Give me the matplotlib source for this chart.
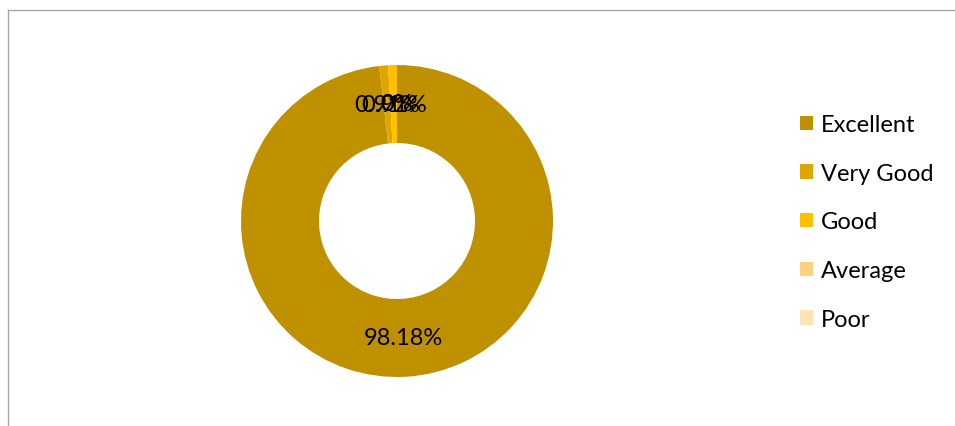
import matplotlib
matplotlib.use("Agg")
import matplotlib.pyplot as plt
from matplotlib.lines import Line2D
import numpy as np

categories = ["Excellent", "Very Good", "Good", "Average", "Poor"]
values = [98.18, 0.91, 0.91, 0.0, 0.0]
labels = ["98.18%", "0.91%", "0.91%", "0%", "0%"]
colors = ["#BF9000", "#DFA600", "#FFC000", "#FFD080", "#FFE2B6"]

plt.rcParams['font.family'] = ['Lato', 'DejaVu Sans']

W, H = 955, 427
fig = plt.figure(figsize=(W / 100, H / 100), dpi=100)

# frame (top and left edges visible)
fx, fy = 7.5 / W, (H - 10.5) / H
fig.add_artist(Line2D([fx, 1.0], [fy, fy], transform=fig.transFigure,
                      color="#A6A6A6", linewidth=1.0))
fig.add_artist(Line2D([fx, fx], [0.0, fy], transform=fig.transFigure,
                      color="#A6A6A6", linewidth=1.0))

cx, cy, R = 397, 222, 156
ax = fig.add_axes([(cx - R) / W, (H - cy - R) / H, 2 * R / W, 2 * R / H])
wedges, _ = ax.pie(values, colors=colors, startangle=90, counterclock=False,
                   radius=1.0, wedgeprops=dict(width=0.5, linewidth=0))
ax.set_xlim(-1, 1)
ax.set_ylim(-1, 1)
ax.set_aspect('equal')
ax.axis('off')

for w, lab in zip(wedges, labels):
    ang = np.deg2rad((w.theta1 + w.theta2) / 2)
    r = 0.75
    ax.text(r * np.cos(ang), r * np.sin(ang), lab, ha='center', va='center',
            fontsize=17, color='black')

leg = fig.legend(wedges, categories, loc='center left',
                 bbox_to_anchor=(800 / W, (H - 223) / H), frameon=False,
                 fontsize=17, handlelength=0.55, handleheight=0.55,
                 handletextpad=0.34, labelspacing=1.17,
                 borderpad=0, borderaxespad=0)

fig.savefig("out.png", dpi=100)
